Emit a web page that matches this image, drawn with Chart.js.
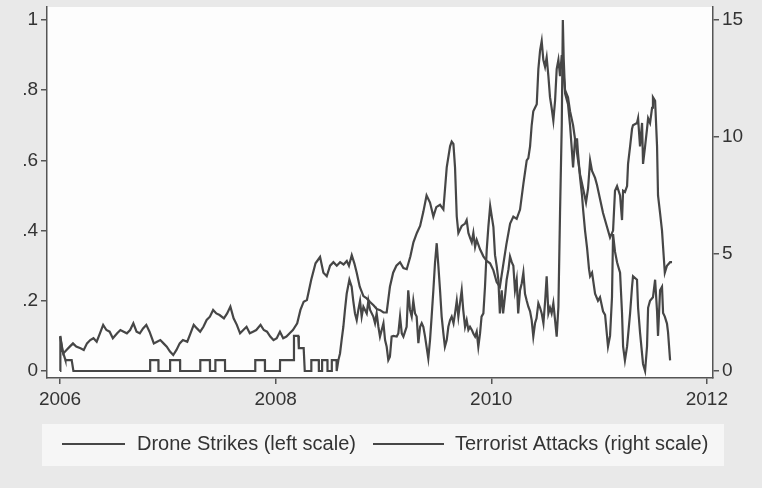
<!DOCTYPE html>
<html>
<head>
<meta charset="utf-8">
<script src="https://cdn.jsdelivr.net/npm/chart.js@4.4.0/dist/chart.umd.min.js"></script>
<style>
  html, body { margin: 0; padding: 0; background: #e9e9e9; }
  #wrap { width: 762px; height: 488px; }
</style>
</head>
<body>
<div id="wrap"><canvas id="c" width="762" height="488"></canvas></div>
<script>
// ---- tick labels ----
const xTicks = [2006, 2008, 2010, 2012];
const leftTicks = [0, 0.2, 0.4, 0.6, 0.8, 1];
const leftTickLabels = ['0', '.2', '.4', '.6', '.8', '1'];
const rightTicks = [0, 5, 10, 15];
const seriesNames = ['Drone Strikes (left scale)', 'Terrorist Attacks (right scale)'];

// ---- Drone strikes (left scale): time (year) and value ----
const droneT = [
2006.000,2006.003,2006.02,2006.046,2006.05,2006.108,2006.124,
2006.835,2006.836,2006.912,2006.913,2007.02,2007.021,2007.113,2007.114,
2007.30,2007.301,2007.39,2007.391,2007.44,2007.441,2007.53,2007.531,
2007.81,2007.811,2007.90,2007.901,2008.04,2008.041,2008.165,2008.17,2008.21,2008.215,2008.26,2008.27,
2008.33,2008.331,2008.40,2008.401,2008.43,2008.431,2008.48,2008.481,2008.52,2008.521,2008.565,2008.566,
2008.582,2008.597,2008.612,2008.628,2008.643,2008.659,2008.684,2008.705,2008.72,2008.736,2008.752,
2008.767,2008.783,2008.798,2008.814,2008.845,2008.86,2008.876,2008.906,2008.922,2008.937,2008.953,
2008.968,2009.0,2009.015,2009.03,2009.045,2009.06,2009.076,2009.092,2009.123,2009.138,2009.154,
2009.17,2009.185,2009.215,2009.23,2009.246,2009.262,2009.277,2009.293,2009.308,2009.324,2009.34,
2009.355,2009.37,2009.386,2009.40,2009.416,2009.432,2009.447,2009.463,2009.478,2009.494,2009.51,
2009.525,2009.54,2009.556,2009.57,2009.587,2009.602,2009.618,2009.633,2009.65,2009.664,2009.68,
2009.695,2009.71,2009.726,2009.74,2009.757,2009.772,2009.788,2009.803,2009.82,2009.834,2009.85,
2009.865,2009.88,2009.896,2009.91,2009.927,2009.942,2009.958,2009.973,2009.99,2010.005,2010.02,
2010.035,2010.05,2010.066,2010.08,2010.097,2010.11,2010.13,2010.143,2010.16,2010.174,2010.19,
2010.205,2010.22,2010.236,2010.25,2010.267,2010.283,2010.298,2010.313,2010.329,2010.344,2010.36,
2010.375,2010.39,2010.406,2010.42,2010.437,2010.453,2010.468,2010.484,2010.50,2010.514,2010.53,
2010.545,2010.56,2010.576,2010.592,2010.607,2010.623,2010.638,2010.654,2010.664,2010.672,2010.685,
2010.712,2010.731,2010.75,2010.759,2010.777,2010.796,2010.805,2010.824,2010.842,2010.852,2010.87,
2010.889,2010.907,2010.917,2010.935,2010.963,2010.99,2011.009,2011.037,2011.056,2011.074,2011.083,
2011.102,2011.12,2011.13,2011.148,2011.167,2011.176,2011.195,2011.213,2011.223,2011.24,2011.26,
2011.288,2011.306,2011.315,2011.352,2011.362,2011.38,2011.408,2011.427,2011.445,2011.455,2011.473,
2011.50,2011.52,2011.538,2011.547,2011.566,2011.584,2011.594,2011.61,2011.63,2011.64,2011.659
];
const droneV = [
0,0.10,0.06,0.035,0.031,0.031,0,
0,0.031,0.031,0,0,0.031,0.031,0,
0,0.031,0.031,0,0,0.031,0.031,0,
0,0.031,0.031,0,0,0.031,0.031,0.10,0.10,0.065,0.065,0,
0,0.031,0.031,0,0,0.031,0.031,0,0,0.031,0.031,0,
0.031,0.05,0.088,0.126,0.174,0.22,0.26,0.24,0.20,0.164,0.145,
0.174,0.20,0.155,0.183,0.164,0.20,0.174,0.155,0.136,0.164,0.126,
0.098,0.136,0.088,0.069,0.031,0.041,0.098,0.10,0.098,0.107,0.155,
0.107,0.098,0.126,0.23,0.174,0.155,0.20,0.164,0.155,0.079,0.126,
0.136,0.126,0.098,0.069,0.036,0.088,0.155,0.23,0.307,0.364,0.297,
0.23,0.155,0.107,0.069,0.088,0.126,0.145,0.155,0.136,0.164,0.20,
0.155,0.193,0.23,0.174,0.126,0.145,0.117,0.126,0.117,0.107,0.098,
0.112,0.069,0.107,0.155,0.164,0.24,0.345,0.41,0.47,0.44,0.41,
0.33,0.30,0.26,0.164,0.23,0.164,0.22,0.26,0.29,0.326,0.31,
0.30,0.23,0.26,0.164,0.23,0.25,0.28,0.22,0.20,0.183,0.17,
0.145,0.098,0.136,0.15,0.193,0.18,0.164,0.136,0.20,0.27,0.164,
0.18,0.164,0.193,0.145,0.098,0.183,0.45,0.70,1.0,0.89,0.79,
0.76,0.70,0.62,0.58,0.66,0.66,0.62,0.55,0.50,0.46,0.40,
0.35,0.29,0.27,0.28,0.22,0.20,0.21,0.17,0.16,0.10,0.07,
0.10,0.21,0.39,0.34,0.31,0.30,0.28,0.165,0.07,0.03,0.07,
0.165,0.24,0.27,0.26,0.18,0.11,0.02,0.0,0.07,0.18,0.20,
0.21,0.26,0.17,0.10,0.23,0.24,0.165,0.155,0.135,0.11,0.03
];

// ---- Terrorist attacks (right scale): time (year) and value ----
const terrorT = [
2006.00,2006.03,2006.06,2006.09,2006.12,2006.15,2006.19,2006.22,2006.25,2006.28,2006.31,2006.34,
2006.37,2006.40,2006.43,2006.46,2006.49,2006.53,2006.56,2006.59,2006.62,2006.65,2006.68,2006.71,
2006.74,2006.77,2006.80,2006.83,2006.87,2006.90,2006.93,2006.96,2006.99,2007.02,2007.05,2007.08,
2007.11,2007.14,2007.18,2007.21,2007.24,2007.27,2007.30,2007.33,2007.36,2007.39,2007.42,2007.45,
2007.48,2007.52,2007.55,2007.58,2007.61,2007.64,2007.67,2007.70,2007.73,2007.76,2007.79,2007.82,
2007.86,2007.89,2007.92,2007.95,2007.98,2008.01,2008.04,2008.07,2008.10,2008.13,2008.16,2008.20,
2008.23,2008.26,2008.29,2008.33,2008.37,2008.412,2008.443,2008.474,2008.505,2008.536,2008.567,2008.598,
2008.63,2008.66,2008.68,2008.706,2008.73,2008.752,2008.78,2008.814,2008.845,2008.876,2008.91,2008.938,
2008.97,2009.0,2009.03,2009.06,2009.09,2009.12,2009.154,2009.185,2009.216,2009.25,2009.278,2009.31,
2009.34,2009.37,2009.40,2009.432,2009.463,2009.49,2009.525,2009.556,2009.587,2009.618,2009.633,2009.649,
2009.664,2009.68,2009.695,2009.726,2009.757,2009.772,2009.788,2009.803,2009.819,2009.834,2009.85,2009.865,
2009.896,2009.927,2009.958,2009.989,2010.02,2010.05,2010.08,2010.11,2010.14,2010.175,2010.205,2010.236,
2010.267,2010.298,2010.329,2010.344,2010.36,2010.375,2010.39,2010.406,2010.422,2010.437,2010.453,2010.468,
2010.483,2010.499,2010.514,2010.53,2010.545,2010.56,2010.576,2010.592,2010.607,2010.623,2010.638,2010.654,
2010.666,2010.685,2010.712,2010.731,2010.759,2010.796,2010.824,2010.852,2010.879,2010.898,2010.917,2010.935,
2010.963,2010.981,2011.009,2011.037,2011.074,2011.102,2011.13,2011.148,2011.167,2011.195,2011.213,2011.223,
2011.24,2011.26,2011.269,2011.288,2011.306,2011.315,2011.352,2011.362,2011.38,2011.399,2011.408,2011.427,
2011.445,2011.455,2011.473,2011.492,2011.50,2011.52,2011.538,2011.547,2011.566,2011.584,2011.594,2011.61,
2011.63,2011.659,2011.677
];
const terrorV = [
1.47,0.75,0.90,1.04,1.18,1.04,0.97,0.90,1.18,1.32,1.40,1.25,
1.61,1.97,1.75,1.68,1.40,1.61,1.75,1.68,1.61,1.75,2.04,1.68,
1.61,1.82,1.97,1.68,1.18,1.25,1.32,1.18,1.04,0.83,0.68,0.90,
1.18,1.32,1.25,1.61,1.97,1.82,1.68,1.89,2.18,2.32,2.61,2.46,
2.39,2.25,2.46,2.75,2.25,1.97,1.61,1.75,1.89,1.61,1.68,1.75,
1.97,1.75,1.68,1.47,1.32,1.40,1.68,1.40,1.47,1.61,1.75,2.04,
2.61,2.96,3.03,3.9,4.6,4.87,4.2,4.05,4.5,4.65,4.5,4.65,
4.55,4.7,4.5,4.95,4.6,4.2,3.6,3.2,3.1,2.95,2.8,2.65,
2.6,2.5,2.5,3.6,4.2,4.5,4.65,4.4,4.35,4.9,5.5,5.9,
6.2,6.8,7.5,7.2,6.6,7.0,7.1,6.9,8.7,9.6,9.8,9.7,
8.7,6.6,5.9,6.2,6.3,6.45,5.9,5.7,5.5,5.9,5.3,5.6,
5.2,4.9,4.7,4.6,4.3,3.8,3.6,4.5,5.4,6.3,6.6,6.5,
6.9,8.0,9.0,9.1,9.6,10.5,11.1,11.25,11.4,12.9,13.7,14.1,
13.3,13.0,13.4,12.6,11.7,11.25,10.7,11.55,12.9,13.3,12.6,13.5,
12.9,12.0,11.7,11.1,10.5,9.3,8.4,7.8,7.2,7.8,9.0,8.55,
8.25,7.95,7.35,6.75,6.15,5.7,6.0,7.7,7.9,7.5,6.45,7.7,
7.65,7.9,8.85,9.6,10.35,10.5,10.6,10.8,9.6,10.6,8.85,9.6,
10.35,10.8,10.6,11.25,11.7,11.55,9.6,7.5,6.75,6.0,5.3,4.2,
4.5,4.65,4.65
];

const lineColor = '#464646';
const textColor = '#333333';
const axisColor = '#555555';
const fontFamily = '"Liberation Sans", Arial, Helvetica, sans-serif';

const bgPlugin = {
  id: 'bg',
  beforeDraw(chart) {
    const ctx = chart.ctx, a = chart.chartArea;
    ctx.save();
    ctx.fillStyle = '#e9e9e9';
    ctx.fillRect(0, 0, chart.width, chart.height);
    ctx.fillStyle = '#fdfdfd';
    ctx.fillRect(a.left, a.top, a.right - a.left, a.bottom - a.top);
    ctx.fillStyle = '#f6f6f6';
    ctx.fillRect(42, 424, 682, 42);
    ctx.restore();
  },
  afterDraw(chart) {
    const ctx = chart.ctx;
    ctx.save();
    ctx.strokeStyle = lineColor;
    ctx.lineWidth = 2;
    ctx.fillStyle = textColor;
    ctx.font = '20px ' + fontFamily;
    ctx.textBaseline = 'middle';
    ctx.textAlign = 'left';
    const y = 444;
    ctx.beginPath(); ctx.moveTo(62, y); ctx.lineTo(125, y); ctx.stroke();
    ctx.fillText(seriesNames[0], 137, y);
    ctx.beginPath(); ctx.moveTo(373, y); ctx.lineTo(444, y); ctx.stroke();
    ctx.fillText(seriesNames[1], 455, y);
    ctx.restore();
  }
};

const tickFont = { family: fontFamily, size: 19 };
const noPad = s => { s.paddingTop = 0; s.paddingBottom = 0; };

new Chart(document.getElementById('c'), {
  type: 'line',
  data: {
    datasets: [
      {
        label: seriesNames[0],
        data: droneT.map((t, i) => ({ x: t, y: droneV[i] })),
        yAxisID: 'y',
        borderColor: lineColor,
        borderWidth: 2.2,
        pointRadius: 0,
        tension: 0,
        fill: false
      },
      {
        label: seriesNames[1],
        data: terrorT.map((t, i) => ({ x: t, y: terrorV[i] })),
        yAxisID: 'y1',
        borderColor: lineColor,
        borderWidth: 2.2,
        pointRadius: 0,
        tension: 0,
        fill: false
      }
    ]
  },
  options: {
    responsive: false,
    animation: false,
    devicePixelRatio: 1,
    layout: { padding: { top: 7, left: 0, right: 0, bottom: 0 } },
    plugins: { legend: { display: false }, tooltip: { enabled: false } },
    scales: {
      x: {
        type: 'linear',
        min: 2005.879,
        max: 2012.057,
        afterBuildTicks: s => { s.ticks = xTicks.map(v => ({ value: v })); },
        afterFit: s => { s.height = 110; s.paddingLeft = 0; s.paddingRight = 0; },
        ticks: { callback: v => String(v), font: tickFont, color: textColor, padding: 4, maxRotation: 0, autoSkip: false },
        grid: { drawOnChartArea: false, drawTicks: true, tickLength: 6, color: axisColor, lineWidth: 1.5 },
        border: { display: true, color: axisColor, width: 1.5 }
      },
      y: {
        type: 'linear',
        position: 'left',
        min: -0.02,
        max: 1.037,
        afterBuildTicks: s => { s.ticks = leftTicks.map(v => ({ value: v })); },
        afterFit: s => { s.width = 47; noPad(s); },
        ticks: { callback: (v, i) => leftTickLabels[i], font: tickFont, color: textColor, padding: 3 },
        grid: { drawOnChartArea: false, drawTicks: true, tickLength: 6, color: axisColor, lineWidth: 1.5 },
        border: { display: true, color: axisColor, width: 1.5 }
      },
      y1: {
        type: 'linear',
        position: 'right',
        min: -0.3,
        max: 15.555,
        afterBuildTicks: s => { s.ticks = rightTicks.map(v => ({ value: v })); },
        afterFit: s => { s.width = 49; noPad(s); },
        ticks: { callback: v => String(v), font: tickFont, color: textColor, padding: 3 },
        grid: { drawOnChartArea: false, drawTicks: true, tickLength: 6, color: axisColor, lineWidth: 1.5 },
        border: { display: true, color: axisColor, width: 1.5 }
      }
    }
  },
  plugins: [bgPlugin]
});
</script>
</body>
</html>
